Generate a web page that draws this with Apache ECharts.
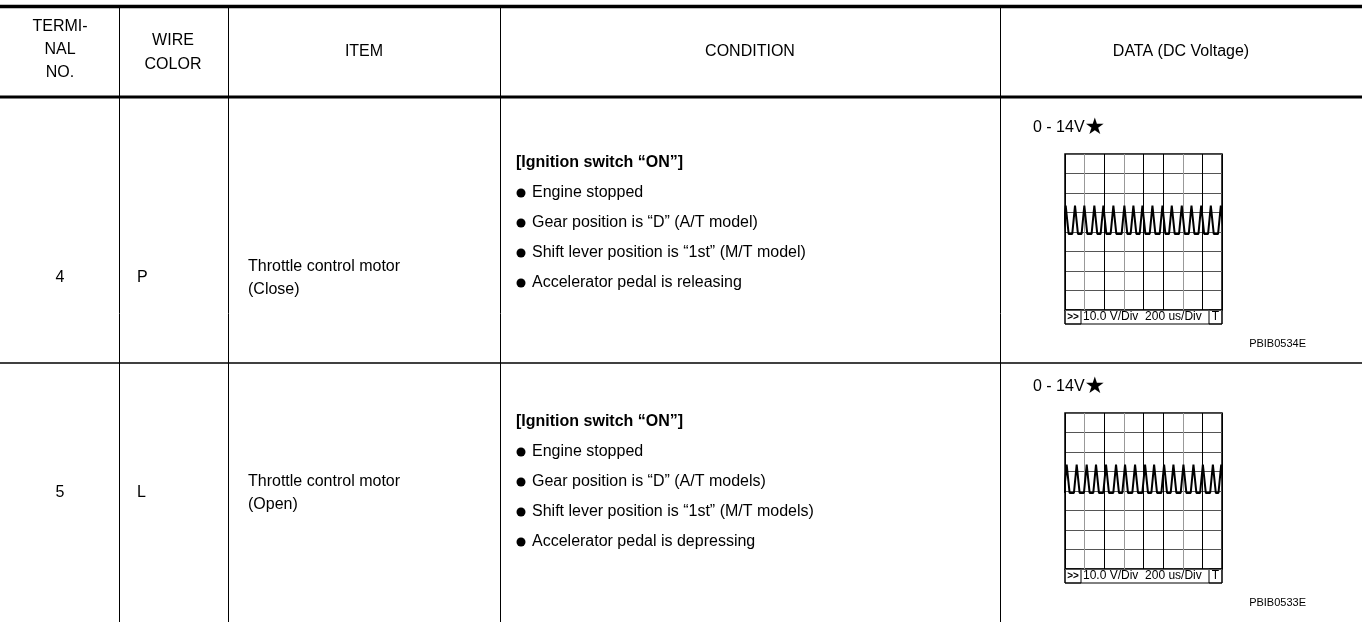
<!DOCTYPE html>
<html><head><meta charset="utf-8">
<script src="https://cdn.jsdelivr.net/npm/echarts@6/dist/echarts.min.js"></script>
<style>html,body{margin:0;padding:0;background:#fff;}#c{width:1362px;height:622px;}</style>
</head><body><div id="c"></div>
<script>
// ---------- data ----------
const headerTerminal = ['TERMI-', 'NAL', 'NO.'];
const headerWire = ['WIRE', 'COLOR'];
const headerItem = 'ITEM';
const headerCondition = 'CONDITION';
const headerData = 'DATA (DC Voltage)';
const terminals = ['4', '5'];
const wireColors = ['P', 'L'];
const items = [['Throttle control motor', '(Close)'], ['Throttle control motor', '(Open)']];
const conditionTitles = ['[Ignition switch \u201cON\u201d]', '[Ignition switch \u201cON\u201d]'];
const conditions1 = ['Engine stopped', 'Gear position is \u201cD\u201d (A/T model)', 'Shift lever position is \u201c1st\u201d (M/T model)', 'Accelerator pedal is releasing'];
const conditions2 = ['Engine stopped', 'Gear position is \u201cD\u201d (A/T models)', 'Shift lever position is \u201c1st\u201d (M/T models)', 'Accelerator pedal is depressing'];
const dataRanges = ['0 - 14V', '0 - 14V'];
const figureIds = ['PBIB0534E', 'PBIB0533E'];
const scopeScaleText = ['10.0 V/Div', '200 us/Div'];
// oscilloscope traces: pulse peak times (us)
const peaks1 = [7, 102, 197, 299, 391, 493, 605, 697, 789, 891, 993, 1088, 1190, 1289, 1388, 1486, 1588];
const peaks2 = [17, 119, 221, 316, 418, 520, 612, 714, 816, 908, 1010, 1105, 1207, 1309, 1405, 1507, 1592];
const pulseLevels = [-1, 13.5];   // low / high volts
const pulseEdges = [28, 30];      // rise / fall time in us
const timeRange = [0, 1600];      // 8 div x 200 us
const voltRange = [-40, 40];      // 8 div x 10 V

// ---------- build ----------
function trace(peaks) {
  const d = [];
  peaks.forEach(p => {
    d.push([p - pulseEdges[0], pulseLevels[0]]);
    d.push([p, pulseLevels[1]]);
    d.push([p + pulseEdges[1], pulseLevels[0]]);
  });
  return d;
}
const FONT = '"Liberation Sans", Arial, sans-serif';
const G = [];
function line(x1, y1, x2, y2, w) {
  G.push({ type: 'line', silent: true, shape: { x1, y1, x2, y2 }, style: { stroke: '#000', lineWidth: w } });
}
function text(t, x, y, opt) {
  opt = opt || {};
  G.push({ type: 'text', silent: true, x, y, style: Object.assign({
    text: t, fill: '#000', font: (opt.bold ? 'bold ' : '') + (opt.size || 16) + 'px ' + FONT,
    textAlign: opt.align || 'left', textVerticalAlign: 'middle'
  }, opt.rich ? { rich: opt.rich } : {}) });
}
// table rules
line(0, 6.5, 1362, 6.5, 3.5);
line(0, 97, 1362, 97, 3);
line(0, 363, 1362, 363, 1.5);
[119, 228, 500, 1000].forEach(x => line(x + 0.5, 5, x + 0.5, 622, 1));
// header
headerTerminal.forEach((t, i) => text(t, 60, 27 + i * 23, { align: 'center' }));
headerWire.forEach((t, i) => text(t, 173, 41 + i * 24, { align: 'center' }));
text(headerItem, 364, 52, { align: 'center' });
text(headerCondition, 750, 52, { align: 'center' });
text(headerData, 1181, 52, { align: 'center' });
// rows
const rowOff = [0, 259];
const itemY = [267, 482];
const condLists = [conditions1, conditions2];
const scopeTops = [154, 413];
for (let r = 0; r < 2; r++) {
  const o = rowOff[r];
  text(terminals[r], 60, itemY[r] + 11, { align: 'center' });
  text(wireColors[r], 137, itemY[r] + 11);
  text(items[r][0], 248, itemY[r]);
  text(items[r][1], 248, itemY[r] + 23);
  text(conditionTitles[r], 516, 163 + o, { bold: true });
  condLists[r].forEach((c, i) => {
    const y = 193 + o + i * 30;
    G.push({ type: 'circle', silent: true, shape: { cx: 521, cy: y, r: 4.5 }, style: { fill: '#000' } });
    text(c, 532, y);
  });
  text('{a|' + dataRanges[r] + '}{s|\u2605}', 1033, 128 + o, { rich: {
    a: { font: '16px ' + FONT, fill: '#000' },
    s: { font: '23px "DejaVu Sans", sans-serif', fill: '#000' } } });
  text(figureIds[r], 1306, 344 + o, { align: 'right', size: 11 });
  // scope label strip
  const st = scopeTops[r] + 156;
  G.push({ type: 'rect', silent: true, shape: { x: 1065, y: st, width: 157, height: 14 }, style: { fill: '#fff', stroke: '#000', lineWidth: 1 } });
  G.push({ type: 'rect', silent: true, shape: { x: 1065, y: st, width: 16, height: 14 }, style: { fill: 'none', stroke: '#000', lineWidth: 1 } });
  G.push({ type: 'rect', silent: true, shape: { x: 1209, y: st, width: 13, height: 14 }, style: { fill: 'none', stroke: '#000', lineWidth: 1 } });
  text('>>', 1073, st + 7, { align: 'center', bold: true, size: 10 });
  text(scopeScaleText[0] + '  ' + scopeScaleText[1], 1083, st + 7, { size: 12 });
  text('T', 1215.5, st + 7, { align: 'center', size: 12 });
}

const vColors = ['#000', '#999', '#000', '#999', '#000', '#000', '#999', '#000', '#000'];
function grid(top) {
  return { left: 1065, top: top, width: 157, height: 156, show: true, borderColor: '#000', borderWidth: 1.5, backgroundColor: '#fff', containLabel: false };
}
function xAx(i) {
  return { gridIndex: i, type: 'value', min: timeRange[0], max: timeRange[1], interval: 200,
    axisLine: { show: false }, axisTick: { show: false }, axisLabel: { show: false },
    splitLine: { show: true, lineStyle: { color: vColors, width: 1 } } };
}
function yAx(i) {
  return { gridIndex: i, type: 'value', min: voltRange[0], max: voltRange[1], interval: 10,
    axisLine: { show: false }, axisTick: { show: false }, axisLabel: { show: false },
    splitLine: { show: true, lineStyle: { color: '#555', width: 1 } } };
}
const chart = echarts.init(document.getElementById('c'), null, { renderer: 'canvas' });
chart.setOption({
  animation: false,
  backgroundColor: '#fff',
  grid: [grid(scopeTops[0]), grid(scopeTops[1])],
  xAxis: [xAx(0), xAx(1)],
  yAxis: [yAx(0), yAx(1)],
  series: [
    { type: 'line', xAxisIndex: 0, yAxisIndex: 0, data: trace(peaks1), symbol: 'none', clip: true, lineStyle: { color: '#000', width: 2 } },
    { type: 'line', xAxisIndex: 1, yAxisIndex: 1, data: trace(peaks2), symbol: 'none', clip: true, lineStyle: { color: '#000', width: 2 } }
  ],
  graphic: G
});
</script></body></html>
